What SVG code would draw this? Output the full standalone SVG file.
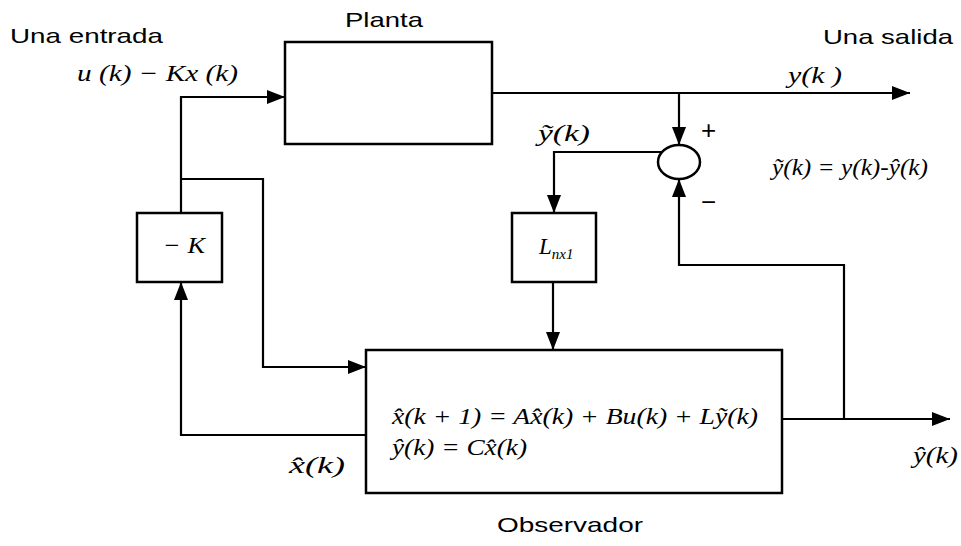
<svg xmlns="http://www.w3.org/2000/svg" width="961" height="546" viewBox="0 0 961 546">
<defs>
<marker id="ah" markerUnits="userSpaceOnUse" markerWidth="18" markerHeight="14" refX="18" refY="7" orient="auto">
<path d="M0,0 L18,7 L0,14 z" fill="#000"/>
</marker>
<style>
.box{fill:none;stroke:#000;stroke-width:2.5}
.ln{fill:none;stroke:#000;stroke-width:2.2}
.lab{font-family:"Liberation Sans",Arial,sans-serif;font-size:21px;fill:#000}
.m{font-family:"Liberation Serif","DejaVu Serif","Times New Roman",serif;font-style:italic;font-size:23px;fill:#000}
.mr{font-family:"Liberation Sans",Arial,sans-serif;font-size:26px;fill:#000}
</style>
</defs>
<rect width="961" height="546" fill="#fff"/>

<text class="lab" x="10" y="43" textLength="153" lengthAdjust="spacingAndGlyphs">Una entrada</text>
<text class="lab" x="823" y="44" textLength="130" lengthAdjust="spacingAndGlyphs">Una salida</text>

<g id="planta">
<rect class="box" x="285" y="42" width="207" height="102"/>
<text class="lab" x="345" y="27" textLength="78" lengthAdjust="spacingAndGlyphs">Planta</text>
</g>

<g id="ganancia-K">
<rect class="box" x="137" y="213" width="85" height="69"/>
<text class="m" x="163" y="253" textLength="42" lengthAdjust="spacingAndGlyphs">− K</text>
</g>

<g id="ganancia-L">
<rect class="box" x="512" y="213" width="84" height="69"/>
<text class="m" x="539" y="254" font-size="25">L<tspan font-size="15" dy="5">nx1</tspan></text>
</g>

<g id="sumador">
<ellipse class="box" cx="679" cy="162" rx="21" ry="17"/>
<text class="mr" x="701" y="139">+</text>
<text class="mr" x="701" y="211">−</text>
</g>

<g id="observador">
<rect class="box" x="366" y="350" width="416" height="143"/>
<text class="m" x="392" y="424" textLength="366" lengthAdjust="spacingAndGlyphs">x̂(k + 1) = Ax̂(k) + Bu(k) + Lỹ(k)</text>
<text class="m" x="392" y="455" textLength="135" lengthAdjust="spacingAndGlyphs">ŷ(k) = Cx̂(k)</text>
<text class="lab" x="497" y="532" textLength="146" lengthAdjust="spacingAndGlyphs">Observador</text>
</g>

<g id="conectores">
<path class="ln" d="M181,213 V97 H285" marker-end="url(#ah)"/>
<path class="ln" d="M181,179 H263 V367 H366" marker-end="url(#ah)"/>
<path class="ln" d="M492,93 H910" marker-end="url(#ah)"/>
<path class="ln" d="M679,93 V145" marker-end="url(#ah)"/>
<path class="ln" d="M661,152 H554 V213" marker-end="url(#ah)"/>
<path class="ln" d="M553,282 V350" marker-end="url(#ah)"/>
<path class="ln" d="M782,419 H950" marker-end="url(#ah)"/>
<path class="ln" d="M844,419 V265 H679 V179" marker-end="url(#ah)"/>
<path class="ln" d="M366,435 H181 V282" marker-end="url(#ah)"/>
</g>

<g id="etiquetas">
<text class="m" x="77" y="81" textLength="161" lengthAdjust="spacingAndGlyphs">u (k) − Kx (k)</text>
<text class="m" x="788" y="83" font-size="22" textLength="54" lengthAdjust="spacingAndGlyphs">y(k )</text>
<text class="m" x="538" y="141" textLength="52" lengthAdjust="spacingAndGlyphs">ỹ(k)</text>
<text class="m" x="772" y="175" font-size="21" textLength="156" lengthAdjust="spacingAndGlyphs">ỹ(k) = y(k)-ŷ(k)</text>
<text class="m" x="289" y="473" textLength="56" lengthAdjust="spacingAndGlyphs">x̂(k)</text>
<text class="m" x="913" y="463" font-size="21" textLength="45" lengthAdjust="spacingAndGlyphs">ŷ(k)</text>
</g>
</svg>
